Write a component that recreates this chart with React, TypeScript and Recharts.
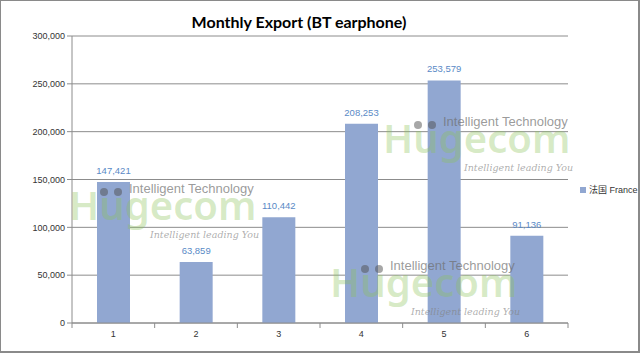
import React from 'react';
import { BarChart, Bar, XAxis, YAxis, CartesianGrid, Legend, LabelList } from 'recharts';

const months = ['1', '2', '3', '4', '5', '6'];
const franceExports = [147421, 63859, 110442, 208253, 253579, 91136];
const yTicks = [0, 50000, 100000, 150000, 200000, 250000, 300000];
const seriesName = '法国 France';
const chartTitle = 'Monthly Export (BT earphone)';
const wmBrand = 'Hugecom';
const wmLine1 = 'Intelligent Technology';
const wmLine2 = 'Intelligent leading You';

const data = months.map((m, i) => ({ month: m, france: franceExports[i] }));

const W = 640;
const H = 354;
const LEFT = 72;
const RIGHT = 72;
const HALF_BAND = (W - LEFT - RIGHT) / months.length / 2;
const BAR_COLOR = '#91a7d1';
const AXIS_COLOR = '#8c8c8c';
const FONT = '"Liberation Sans", Arial, "Noto Sans CJK SC", sans-serif';

const fmt = (v: number) => v.toLocaleString('en-US');

const XTick = (props: any) => {
  const { x, y, payload, index } = props;
  return (
    <g>
      <line x1={x - HALF_BAND} x2={x - HALF_BAND} y1={y} y2={y + 5} stroke={AXIS_COLOR} />
      {index === months.length - 1 && (
        <line x1={x + HALF_BAND} x2={x + HALF_BAND} y1={y} y2={y + 5} stroke={AXIS_COLOR} />
      )}
      <text x={x} y={y + 14} textAnchor="middle" fontSize={9} fill="#333" fontFamily={FONT}>
        {payload.value}
      </text>
    </g>
  );
};

const LegendContent = () => (
  <div style={{ display: 'flex', alignItems: 'center', whiteSpace: 'nowrap', fontFamily: FONT, fontSize: 9, color: '#333' }}>
    <span style={{ display: 'inline-block', flexShrink: 0, width: 6, height: 6, background: BAR_COLOR, marginRight: 3 }} />
    <span>{seriesName}</span>
  </div>
);

// watermark anchor = left dot center
const watermarks = [
  { x: 104, y: 192 },
  { x: 365, y: 269 },
  { x: 418, y: 125 },
];

const Watermark = ({ x, y }: { x: number; y: number }) => (
  <>
    <div style={{ position: 'absolute', left: x - 35, top: y - 11, fontFamily: '"Noto Sans", sans-serif', fontWeight: 600, fontSize: 40, lineHeight: '48px', color: 'rgba(140,195,90,0.36)', whiteSpace: 'nowrap' }}>
      {wmBrand}
    </div>
    <div style={{ position: 'absolute', left: x - 4, top: y - 4, width: 8, height: 8, borderRadius: 4, background: 'rgba(80,80,80,0.5)' }} />
    <div style={{ position: 'absolute', left: x + 10, top: y - 4, width: 8, height: 8, borderRadius: 4, background: 'rgba(80,80,80,0.5)' }} />
    <div style={{ position: 'absolute', left: x + 25, top: y - 11, fontFamily: FONT, fontSize: 13, lineHeight: '16px', color: 'rgba(110,110,110,0.7)', whiteSpace: 'nowrap' }}>
      {wmLine1}
    </div>
    <div style={{ position: 'absolute', left: x + 46, top: y + 36, fontFamily: '"DejaVu Serif", serif', fontStyle: 'italic', fontSize: 9.5, lineHeight: '14px', color: 'rgba(130,130,130,0.65)', whiteSpace: 'nowrap' }}>
      {wmLine2}
    </div>
  </>
);

export default function App() {
  return (
    <div style={{ position: 'absolute', left: 0, top: 0, width: W, height: H, background: '#fff' }}>
      <div style={{ position: 'absolute', left: 0, top: 0, width: W, height: 353, boxSizing: 'border-box', border: '1px solid #8a8a8a', borderRightWidth: 2, borderBottomWidth: 2 }} />
      <div style={{ position: 'absolute', left: 0, width: 598, top: 12, textAlign: 'center', fontFamily: 'Lato, sans-serif', fontWeight: 700, fontSize: 16, lineHeight: '20px', color: '#000' }}>
        {chartTitle}
      </div>
      <BarChart width={W} height={H} data={data} margin={{ top: 36, right: RIGHT, left: 0, bottom: 0 }}>
        <CartesianGrid vertical={false} stroke={AXIS_COLOR} />
        <XAxis
          dataKey="month"
          height={31}
          tickSize={0}
          tickMargin={0}
          tickLine={false}
          axisLine={{ stroke: AXIS_COLOR }}
          tick={<XTick />}
          interval={0}
        />
        <YAxis
          width={LEFT}
          domain={[0, 300000]}
          ticks={yTicks}
          tickFormatter={fmt}
          tickSize={5}
          tickLine={{ stroke: AXIS_COLOR }}
          axisLine={{ stroke: AXIS_COLOR }}
          tick={{ fontSize: 9, fill: '#333', fontFamily: FONT }}
          interval={0}
        />
        <Legend
          layout="vertical"
          align="right"
          verticalAlign="middle"
          content={<LegendContent />}
          wrapperStyle={{ position: 'absolute', left: 580, top: 183, width: 0, height: 0, overflow: 'visible' }}
        />
        <Bar dataKey="france" name={seriesName} fill={BAR_COLOR} barSize={33} isAnimationActive={false}>
          <LabelList dataKey="france" position="top" offset={8} formatter={(v: any) => fmt(Number(v))} style={{ fontSize: 9.5, fill: '#5a8ac6', fontFamily: FONT }} />
        </Bar>
      </BarChart>
      {watermarks.map((w, i) => (
        <Watermark key={i} x={w.x} y={w.y} />
      ))}
    </div>
  );
}
